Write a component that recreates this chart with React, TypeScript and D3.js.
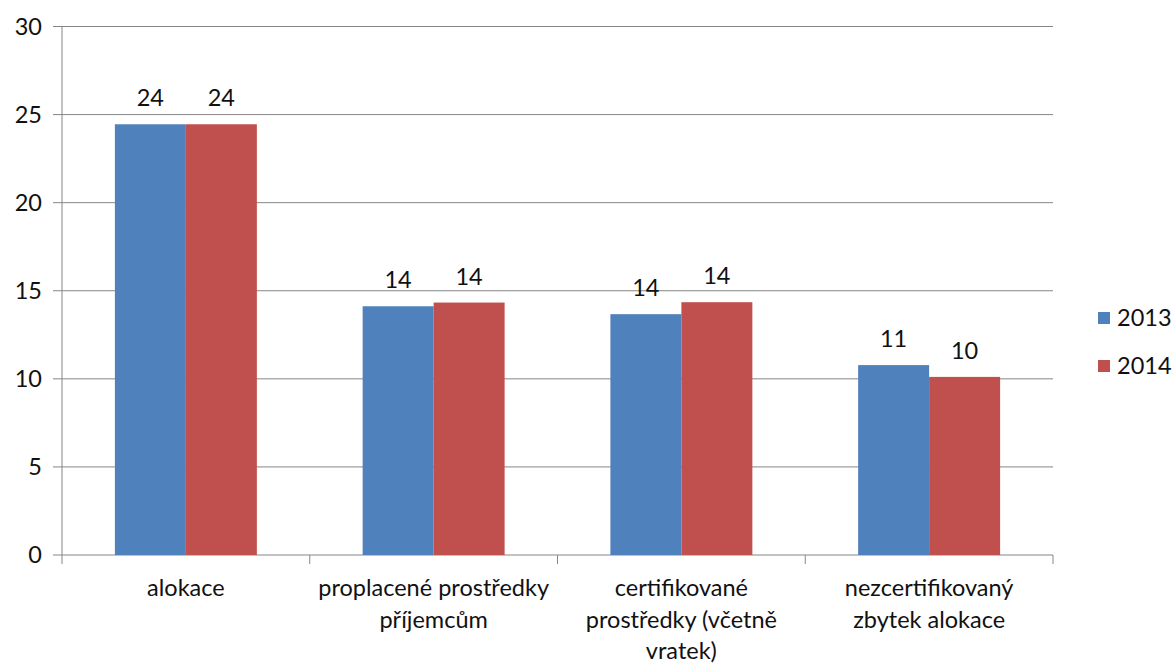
import React, { useEffect } from 'react';
import * as d3 from 'd3';

const categories = [
  ['alokace'],
  ['proplacené prostředky', 'příjemcům'],
  ['certifikované', 'prostředky (včetně', 'vratek)'],
  ['nezcertifikovaný', 'zbytek alokace'],
];
const seriesNames = ['2013', '2014'];
const values2013 = [24.45, 14.12, 13.67, 10.78];
const values2014 = [24.45, 14.33, 14.35, 10.11];
const yTicks = [0, 5, 10, 15, 20, 25, 30];
const colors = ['#4f81bd', '#c0504d'];

const W = 1173;
const H = 664;
const FONT = 'Lato, "Open Sans", sans-serif';
const FS = 23.5;

export default function App() {
  useEffect(() => {
    document.body.style.margin = '0';
  }, []);

  const catKeys = categories.map((c) => c.join(' '));
  const x = d3.scaleBand<string>().domain(catKeys).range([62, 1053]);
  const bw = x.bandwidth();
  const x1 = d3.scaleBand<string>().domain(seriesNames).range([0, bw]).paddingOuter(0.745);
  const y = d3.scaleLinear().domain([0, 30]).range([555, 26.5]);
  const series = [values2013, values2014];
  const fmt = d3.format('.0f');
  const grid = '#868686';
  const ink = '#111';

  return (
    <svg width={W} height={H} style={{ display: 'block', background: '#fff' }} fontFamily={FONT}>
      {yTicks.map((t) => (
        <g key={t}>
          <line x1={53} x2={1053} y1={y(t)} y2={y(t)} stroke={grid} strokeWidth={1} />
          <text x={42} y={y(t)} dy="0.35em" textAnchor="end" fontSize={FS} fill={ink}>
            {t}
          </text>
        </g>
      ))}
      <line x1={62} x2={62} y1={y(30)} y2={y(0)} stroke={grid} strokeWidth={1} />
      {[...catKeys, null].map((k, i) => {
        const xx = k === null ? 1053 : (x(k) as number);
        return <line key={i} x1={xx} x2={xx} y1={y(0)} y2={y(0) + 9} stroke={grid} strokeWidth={1} />;
      })}
      {catKeys.map((k, ci) => (
        <g key={k} transform={`translate(${x(k)},0)`}>
          {seriesNames.map((s, si) => {
            const v = series[si][ci];
            const bx = x1(s) as number;
            return (
              <g key={s}>
                <rect x={bx} y={y(v)} width={x1.bandwidth()} height={y(0) - y(v)} fill={colors[si]} />
                <text
                  x={bx + x1.bandwidth() / 2}
                  y={y(v) - 18}
                  textAnchor="middle"
                  fontSize={FS}
                  fill={ink}
                >
                  {fmt(v)}
                </text>
              </g>
            );
          })}
          {categories[ci].map((line, li) => (
            <text key={li} x={bw / 2} y={596 + li * 31.5} textAnchor="middle" fontSize={FS} fill={ink}>
              {line}
            </text>
          ))}
        </g>
      ))}
      {seriesNames.map((s, i) => (
        <g key={s} transform={`translate(1098,${312 + i * 48})`}>
          <rect width={12} height={12} fill={colors[i]} />
          <text x={19} y={6} dy="0.36em" fontSize={FS} fill={ink}>
            {s}
          </text>
        </g>
      ))}
    </svg>
  );
}
